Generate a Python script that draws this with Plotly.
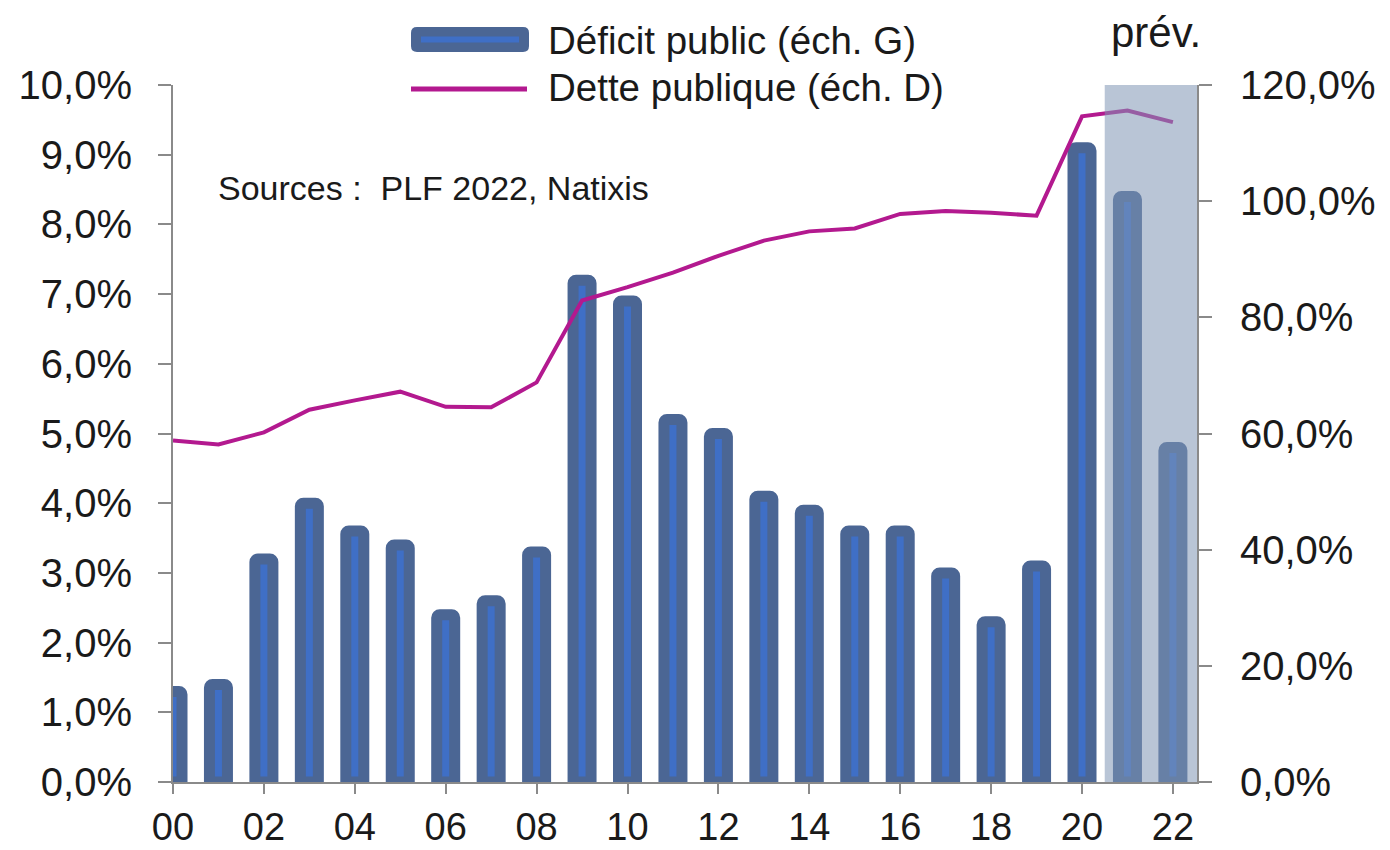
import plotly.graph_objects as go

# ---------------- data ----------------
years = list(range(2000, 2023))
year_labels = [f"{y % 100:02d}" for y in years]
deficit = [1.3, 1.4, 3.2, 4.0, 3.6, 3.4, 2.4, 2.6, 3.3, 7.2, 6.9, 5.2, 5.0,
           4.1, 3.9, 3.6, 3.6, 3.0, 2.3, 3.1, 9.1, 8.4, 4.8]
debt = [58.8, 58.1, 60.2, 64.1, 65.7, 67.2, 64.6, 64.5, 68.8, 82.9, 85.2, 87.7,
        90.6, 93.2, 94.8, 95.3, 97.8, 98.3, 98.0, 97.5, 114.6, 115.6, 113.6]
forecast_start = 2021
bar_name = "Déficit public (éch. G)"
line_name = "Dette publique (éch. D)"
source_text = "Sources :  PLF 2022, Natixis"
forecast_label = "prév."

# ---------------- styling ----------------
FONT = "Liberation Sans, Arial, sans-serif"
TXT = "#1a1a1a"
AX = "#8a8a8a"
BAR_EDGE = "#4b6694"
BAR_FILL = "#3f6fc6"
LINE = "#b3198f"

OFF = 8  # page body margin in the browser
W, H = 1390 - OFF, 850 - OFF
# plot area in screen pixels
SL, SR, ST, SB = 173, 1197, 85, 782.5
ML, MR, MT, MB = SL - OFF, W - (SR - OFF), ST - OFF, H - (SB - OFF)
PW, PH = SR - SL, SB - ST

x = [y - years[0] for y in years]
xmax = 22.53


def px_x(p):
    return (p - SL) / PW


def px_y(p):
    return (SB - p) / PH


fig = go.Figure()
fig.add_trace(go.Bar(
    x=x, y=deficit, name=bar_name, yaxis="y", xaxis="x",
    width=0.396,
    marker=dict(color=BAR_FILL, line=dict(color=BAR_EDGE, width=11), cornerradius=3),
    showlegend=False,
))
fig.add_trace(go.Scatter(
    x=x, y=debt, name=line_name, yaxis="y2", xaxis="x", mode="lines",
    line=dict(color=LINE, width=4), showlegend=False,
))

shapes = [
    # forecast shading
    dict(type="rect", xref="x", yref="paper", x0=forecast_start - years[0] - 0.5, x1=xmax,
         y0=0, y1=1, fillcolor="rgba(128,150,180,0.55)", line=dict(width=0), layer="above"),
]

# custom legend: rounded rect symbol
x0, x1 = px_x(411), px_x(529)
y0, y1 = px_y(52), px_y(27)
dx, dy = 6 / PW, 6 / PH
path = (f"M {x0+dx},{y0} L {x1-dx},{y0} Q {x1},{y0} {x1},{y0+dy} L {x1},{y1-dy} "
        f"Q {x1},{y1} {x1-dx},{y1} L {x0+dx},{y1} Q {x0},{y1} {x0},{y1-dy} "
        f"L {x0},{y0+dy} Q {x0},{y0} {x0+dx},{y0} Z")
shapes.append(dict(type="path", xref="paper", yref="paper", path=path,
                   fillcolor=BAR_EDGE, line=dict(width=0), layer="above"))
shapes.append(dict(type="line", xref="paper", yref="paper", x0=px_x(421), x1=px_x(519),
                   y0=px_y(39.5), y1=px_y(39.5), line=dict(color=BAR_FILL, width=6), layer="above"))
shapes.append(dict(type="line", xref="paper", yref="paper", x0=px_x(411), x1=px_x(527),
                   y0=px_y(89), y1=px_y(89), line=dict(color=LINE, width=5), layer="above"))

annotations = [
    dict(text=bar_name, xref="paper", yref="paper", x=px_x(546), y=px_y(40),
         xanchor="left", yanchor="middle", showarrow=False, font=dict(size=38.5, color=TXT, family=FONT)),
    dict(text=line_name, xref="paper", yref="paper", x=px_x(546), y=px_y(88),
         xanchor="left", yanchor="middle", showarrow=False, font=dict(size=38.5, color=TXT, family=FONT)),
    dict(text=source_text, xref="paper", yref="paper", x=px_x(216), y=px_y(188),
         xanchor="left", yanchor="middle", showarrow=False, font=dict(size=34, color=TXT, family=FONT)),
    dict(text=forecast_label, xref="paper", yref="paper", x=px_x(1156), y=px_y(32),
         xanchor="center", yanchor="middle", showarrow=False, font=dict(size=42, color=TXT, family=FONT)),
]

fig.update_layout(
    width=W, height=H,
    margin=dict(l=ML, r=MR, t=MT, b=MB, autoexpand=False),
    paper_bgcolor="white", plot_bgcolor="white",
    separators=", ",
    font=dict(family=FONT, color=TXT),
    barmode="overlay",
    shapes=shapes,
    annotations=annotations,
    xaxis=dict(
        range=[0, xmax], tickvals=x[::2], ticktext=year_labels[::2],
        showgrid=False, zeroline=False, showline=True, linecolor=AX, linewidth=2,
        ticks="outside", ticklen=10, tickwidth=2, tickcolor=AX,
        tickfont=dict(size=38, color=TXT, family=FONT), ticklabelstandoff=0,
        anchor="y", automargin=False,
    ),
    xaxis2=dict(
        range=[0, xmax], tick0=0, dtick=1, overlaying="x", anchor="y", side="bottom",
        showgrid=False, zeroline=False, showline=False, showticklabels=False,
        ticks="inside", ticklen=10, tickwidth=2, tickcolor=AX, automargin=False,
    ),
    yaxis=dict(
        range=[0, 10], dtick=1, tickformat=".1f", ticksuffix="%",
        showgrid=False, zeroline=False, showline=True, linecolor=AX, linewidth=2,
        ticks="outside", ticklen=13, tickwidth=2, tickcolor=AX,
        tickfont=dict(size=40, color=TXT, family=FONT), ticklabelstandoff=18,
        automargin=False,
    ),
    yaxis2=dict(
        range=[0, 120], dtick=20, tickformat=".1f", ticksuffix="%",
        overlaying="y", side="right", anchor="x",
        showgrid=False, zeroline=False, showline=True, linecolor=AX, linewidth=2,
        ticks="outside", ticklen=13, tickwidth=2, tickcolor=AX,
        tickfont=dict(size=40, color=TXT, family=FONT), ticklabelstandoff=20,
        automargin=False,
    ),
)

fig.write_html("out.html")
